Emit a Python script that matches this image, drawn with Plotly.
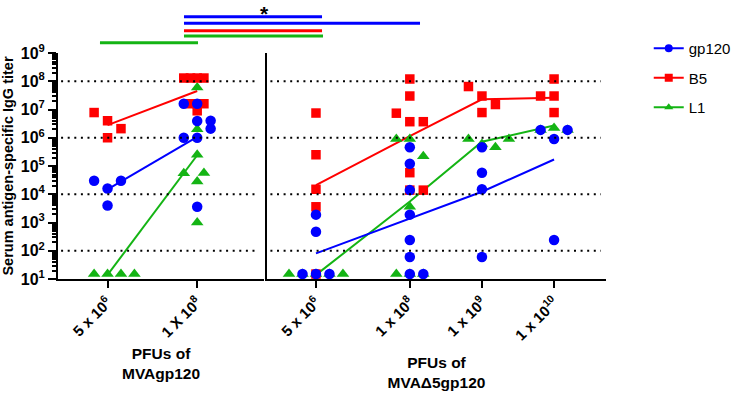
import plotly.graph_objects as go

FONT = "Liberation Sans, Arial, sans-serif"
BLUE = "#0000ff"
RED = "#ff0000"
GREEN = "#14b414"

# ---------------- data ----------------
series_names = ["gp120", "B5", "L1"]

y_tick_vals = [1e1, 1e2, 1e3, 1e4, 1e5, 1e6, 1e7, 1e8, 1e9]
y_tick_text = ["10<sup>1</sup>", "10<sup>2</sup>", "10<sup>3</sup>", "10<sup>4</sup>",
               "10<sup>5</sup>", "10<sup>6</sup>", "10<sup>7</sup>", "10<sup>8</sup>",
               "10<sup>9</sup>"]

# Left panel: MVAgp120
left_doses = [5e6, 1e8]
left_tick_text = ["5 x 10<sup>6</sup>", "1 X 10<sup>8</sup>"]
left_gp120 = [[3.0e4, 1.6e4, 4.0e3, 3.0e4],
              [1.6e7, 1.6e7, 3.9e6, 4.0e6, 2.1e6, 1.0e6, 1.0e6, 3.6e3]]
left_b5 = [[7.8e6, 4.0e6, 2.1e6, 1.0e6],
           [1.3e8, 1.3e8, 1.3e8, 1.3e8, 1.6e7, 1.6e7, 1.6e7, 9.0e6]]
left_l1 = [[15, 15, 15, 15],
           [6.0e7, 2.0e6, 2.5e5, 5.5e4, 5.7e4, 2.8e4, 1.0e3]]
left_gp120_gmt = [1.5e4, 1.07e6]
left_b5_gmt = [2.8e6, 4.5e7]
left_l1_gmt = [14, 2.4e5]

# horizontal spread of the scatter columns (in column slots)
left_gp120_spread = [[-1, 0, 0, 1], [-1, 0, 0, 1, 1, -1, 0, 0]]
left_b5_spread = [[-1, 0, 1, 0], [-1, -0.5, 0, 0.5, -0.5, 0.5, 0, 0]]
left_l1_spread = [[-1, 0, 1, 2], [0, 0, 0, -1, 0.5, 0, 0]]

# Right panel: MVAdelta5gp120
right_doses = [5e6, 1e8, 1e9, 1e10]
right_tick_text = ["5 x 10<sup>6</sup>", "1 x 10<sup>8</sup>",
                   "1 x 10<sup>9</sup>", "1 x 10<sup>10</sup>"]
right_gp120 = [[1.9e3, 4.7e2, 15, 15, 15],
               [4.6e5, 1.2e5, 1.4e4, 1.9e3, 2.4e2, 60, 15, 15],
               [4.6e5, 5.8e4, 1.5e4, 60],
               [1.9e6, 9.0e5, 1.9e6, 2.4e2]]
right_b5 = [[7.5e6, 2.5e5, 1.5e4, 3.6e3, 15],
            [1.2e8, 3.0e7, 7.4e6, 3.7e6, 3.7e6, 5.8e4, 1.4e4, 1.4e4],
            [6.5e7, 3.0e7, 1.5e7, 7.8e6],
            [1.2e8, 3.0e7, 3.0e7, 7.8e6]]
right_l1 = [[15, 15, 15, 15, 15],
            [9.0e5, 9.0e5, 2.2e5, 3.6e3, 15, 15, 15],
            [9.0e5, 6.0e5, 4.6e5, 9.0e5],
            [2.2e6, 1.9e6, 1.9e6]]
right_gp120_gmt = [81, 1.4e3, 1.23e4, 1.7e5]
right_b5_gmt = [2.1e4, 1.15e6, 2.3e7, 2.6e7]
right_l1_gmt = [14, 5.5e3, 7.2e5, 2.7e6]

right_gp120_spread = [[0, 0, -1, 0, 1], [0, 0, 0, 0, 0, 0, 0, 1], [0, 0, 0, 0], [-1, 0, 1, 0]]
right_b5_spread = [[0, 0, 0, 0, 0], [0, 0, -1, 0, 1, 0, 0, 1], [-1, 0, 1, 0], [0, -1, 0, 0]]
right_l1_spread = [[-2, -1, 0, 1, 2], [-1, 0, 1, 0, -1, 0, 1], [-1, 0, 1, 2], [0, -1, 1]]

# ---------------- figure ----------------
colors = {"gp120": BLUE, "B5": RED, "L1": GREEN}
symbols = {"gp120": "circle", "B5": "square", "L1": "triangle-up"}
msize = {"gp120": 10.5, "B5": 9.5, "L1": 11}

fig = go.Figure()


def add_panel(doses, vals, spreads, gmts, xa, ya, slot):
    # mean lines
    for name in ["L1", "B5", "gp120"]:
        fig.add_trace(go.Scatter(x=doses, y=gmts[name], mode="lines",
                                 line=dict(color=colors[name], width=2),
                                 showlegend=False, hoverinfo="skip",
                                 xaxis=xa, yaxis=ya))
    # scatter columns
    for name in ["L1", "B5", "gp120"]:
        xs, ys = [], []
        for d, group, sp in zip(doses, vals[name], spreads[name]):
            for v, s in zip(group, sp):
                xs.append(d * 10 ** (s * slot))
                ys.append(v)
        fig.add_trace(go.Scatter(x=xs, y=ys, mode="markers",
                                 marker=dict(symbol=symbols[name], size=msize[name],
                                             color=colors[name], line=dict(width=0)),
                                 showlegend=False, xaxis=xa, yaxis=ya))


add_panel(left_doses,
          {"gp120": left_gp120, "B5": left_b5, "L1": left_l1},
          {"gp120": left_gp120_spread, "B5": left_b5_spread, "L1": left_l1_spread},
          {"gp120": left_gp120_gmt, "B5": left_b5_gmt, "L1": left_l1_gmt},
          "x", "y", 0.195)
add_panel(right_doses,
          {"gp120": right_gp120, "B5": right_b5, "L1": right_l1},
          {"gp120": right_gp120_spread, "B5": right_b5_spread, "L1": right_l1_spread},
          {"gp120": right_gp120_gmt, "B5": right_b5_gmt, "L1": right_l1_gmt},
          "x2", "y2", 0.187)

# legend entries
for rank, name in enumerate(series_names):
    fig.add_trace(go.Scatter(x=[None], y=[None], mode="lines+markers", name=name,
                             legendgroup=name, legendrank=rank + 1,
                             line=dict(color=colors[name], width=2),
                             marker=dict(symbol=symbols[name], size=8, color=colors[name]),
                             xaxis="x", yaxis="y"))

tickfont = dict(family=FONT, size=15, color="black", weight="bold")
common_x = dict(type="log", showgrid=False, zeroline=False, showline=True,
                linecolor="black", linewidth=2, ticks="outside", ticklen=7,
                tickwidth=2, tickcolor="black", tickangle=-45, tickfont=tickfont,
                title_font=dict(family=FONT, size=15.5, color="black", weight="bold"))

fig.update_layout(
    width=742, height=409,
    margin=dict(l=58, r=136, t=53, b=130, autoexpand=False),
    paper_bgcolor="white", plot_bgcolor="white",
    font=dict(family=FONT, color="black"),
    xaxis=dict(common_x, domain=[0, 0.376], range=[5.98, 8.97],
               tickvals=left_doses, ticktext=left_tick_text, anchor="y",
               title=dict(text="<b>PFUs of<br>MVAgp120</b>", standoff=8)),
    xaxis2=dict(common_x, domain=[0.3814, 1], range=[6.02, 10.72],
                tickvals=right_doses, ticktext=right_tick_text, anchor="y2",
                title=dict(text="<b>PFUs of<br>MVA\u03945gp120</b>", standoff=14)),
    yaxis=dict(type="log", range=[1, 9], tickvals=y_tick_vals, ticktext=y_tick_text,
               anchor="x",
               showgrid=False, zeroline=False, showline=True, linecolor="black",
               linewidth=2, ticks="outside", ticklen=8, tickwidth=2, tickcolor="black",
               tickfont=dict(family=FONT, size=16, color="black", weight="bold"),
               minor=dict(ticks="outside", ticklen=4, tickwidth=1.5, tickcolor="black",
                          dtick="D1", showgrid=False),
               title=dict(text="<b>Serum antigen-specific IgG titer</b>",
                          font=dict(family=FONT, size=14.5, color="black"), standoff=5)),
    yaxis2=dict(type="log", range=[1, 9], matches="y", anchor="x2",
                showgrid=False, zeroline=False, showline=True, linecolor="black",
                linewidth=2, ticks="", showticklabels=False),
    legend=dict(x=1.078, y=1.093, xanchor="left", yanchor="top",
                bgcolor="rgba(0,0,0,0)", traceorder="grouped", tracegroupgap=7,
                font=dict(family=FONT, size=15, color="black")),
    showlegend=True,
)

# dotted reference lines at 10^2, 10^4, 10^6, 10^8
ref_levels = [1e2, 1e4, 1e6, 1e8]
for lvl in ref_levels:
    for xr, yr, x0, x1 in [("x domain", "y", 0.015, 0.975), ("x2 domain", "y2", 0.01, 0.985)]:
        fig.add_shape(type="line", xref=xr, yref=yr, x0=x0, x1=x1, y0=lvl, y1=lvl,
                      line=dict(color="black", width=2, dash="2px,4.6px"))

# significance bars (paper coordinates)
sig_bars = [
    (BLUE, 0.2299, 0.4818, 1.1606),
    (BLUE, 0.2299, 0.6606, 1.1314),
    (RED, 0.2299, 0.4818, 1.0987),
    (GREEN, 0.2299, 0.4836, 1.0752),
    (GREEN, 0.0766, 0.2555, 1.0456),
]
for c, x0, x1, y in sig_bars:
    fig.add_shape(type="line", xref="paper", yref="paper", x0=x0, x1=x1, y0=y, y1=y,
                  line=dict(color=c, width=3))
fig.add_annotation(text="<b>*</b>", xref="paper", yref="paper", x=0.3777, y=1.2345,
                   xanchor="center", yanchor="top", showarrow=False,
                   font=dict(family=FONT, size=21, color="black"))

fig.write_html("out.html", post_script="document.body.style.margin='0';",
               config={"displayModeBar": False})
